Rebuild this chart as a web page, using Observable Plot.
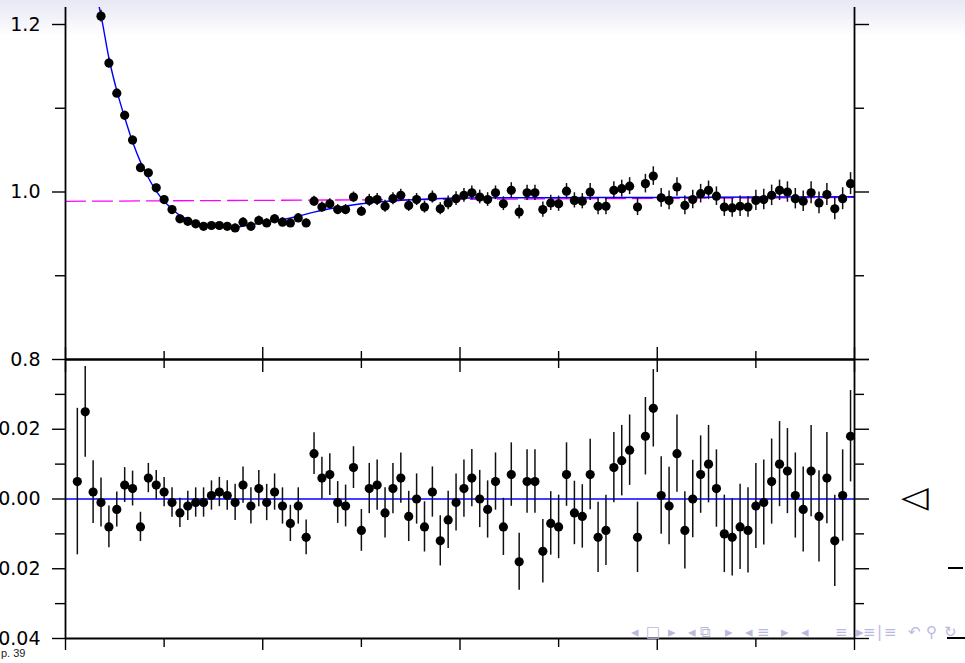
<!DOCTYPE html>
<html><head><meta charset="utf-8">
<script src="https://cdn.jsdelivr.net/npm/d3@7"></script>
<script src="https://cdn.jsdelivr.net/npm/@observablehq/plot@0.6"></script>
<style>
html,body{margin:0;padding:0;background:#fff;}
#wrap{position:relative;width:965px;height:663px;overflow:hidden;
  background:linear-gradient(to bottom,#e8e8f5 0px,#f2f2fa 18px,#ffffff 36px,#ffffff 100%);
  font-family:"DejaVu Sans",sans-serif;}
#wrap svg{position:absolute;left:0;}
.nav{position:absolute;top:623px;font-size:15px;color:#b9b9e0;font-family:"DejaVu Sans",sans-serif;line-height:18px;}
.frag{position:absolute;height:0;border-top:2px solid #000;}
</style></head>
<body><div id="wrap"></div>
<script>
// ---- data ----
const xBins = [0.06,0.10,0.14,0.18,0.22,0.26,0.30,0.34,0.38,0.42,0.46,0.50,0.54,0.58,0.62,0.66,0.70,0.74,0.78,0.82,
  0.86,0.90,0.94,0.98,1.02,1.06,1.10,1.14,1.18,1.22,1.26,1.30,1.34,1.38,1.42,1.46,1.50,1.54,1.58,1.62,
  1.66,1.70,1.74,1.78,1.82,1.86,1.90,1.94,1.98,2.02,2.06,2.10,2.14,2.18,2.22,2.26,2.30,2.34,2.38,2.42,
  2.46,2.50,2.54,2.58,2.62,2.66,2.70,2.74,2.78,2.82,2.86,2.90,2.94,2.98,3.02,3.06,3.10,3.14,3.18,3.22,
  3.26,3.30,3.34,3.38,3.42,3.46,3.50,3.54,3.58,3.62,3.66,3.70,3.74,3.78,3.82,3.86,3.90,3.94,3.98];

const ratio = [1.62,1.43,1.30,1.210,1.154,1.118,1.0915,1.062,1.029,1.023,
  1.005,0.991,0.979,0.968,0.965,0.962,0.959,0.960,0.960,0.959,
  0.957,0.964,0.959,0.966,0.963,0.968,0.964,0.963,0.969,0.963,
  0.989,0.982,0.986,0.979,0.979,0.994,0.977,0.990,0.991,0.983,
  0.992,0.996,0.984,0.991,0.982,0.994,0.980,0.987,0.992,0.996,
  0.999,0.994,0.991,0.999,0.986,1.002,0.976,0.999,0.999,0.979,
  0.987,0.986,1.001,0.990,0.989,1.000,0.983,0.983,1.002,1.004,
  1.007,0.982,1.010,1.019,0.993,0.990,1.006,0.984,0.991,0.998,
  1.002,0.995,0.982,0.981,0.983,0.982,0.990,0.991,0.996,1.002,
  1.000,0.992,0.989,0.999,0.987,0.997,0.980,0.992,1.010];

const resid = [0.005,0.025,0.002,-0.001,-0.008,-0.003,0.004,0.003,-0.008,0.006,
  0.004,0.002,-0.001,-0.004,-0.002,-0.001,-0.001,0.001,0.002,0.001,
  -0.001,0.004,-0.002,0.003,-0.001,0.002,-0.002,-0.007,-0.002,-0.011,
  0.013,0.006,0.007,-0.001,-0.002,0.009,-0.009,0.003,0.004,-0.004,
  0.003,0.006,-0.005,0.000,-0.008,0.002,-0.012,-0.006,-0.001,0.003,
  0.006,0.000,-0.003,0.005,-0.008,0.007,-0.018,0.005,0.005,-0.015,
  -0.007,-0.008,0.007,-0.004,-0.005,0.007,-0.011,-0.009,0.009,0.011,
  0.014,-0.011,0.018,0.026,0.001,-0.002,0.013,-0.009,0.000,0.007,
  0.010,0.003,-0.010,-0.011,-0.008,-0.009,-0.002,-0.001,0.005,0.010,
  0.008,0.001,-0.003,0.008,-0.005,0.006,-0.012,0.001,0.018];

const errs = [0.021,0.013,0.009,0.007,0.006,0.005,0.005,0.005,0.0042,0.0042,
  0.0042,0.0042,0.0042,0.0042,0.0042,0.0042,0.0042,0.0042,0.0042,0.0042,
  0.0052,0.0052,0.0052,0.0052,0.0052,0.0052,0.0052,0.0052,0.0052,0.005,
  0.006,0.006,0.006,0.006,0.006,0.006,0.006,0.0072,0.0072,0.0072,
  0.0072,0.0072,0.0072,0.0072,0.0072,0.0072,0.0072,0.0082,0.0082,0.0082,
  0.0082,0.0082,0.0082,0.0082,0.0082,0.0091,0.0082,0.0091,0.0091,0.0091,
  0.0091,0.0091,0.0091,0.0091,0.0091,0.0101,0.0101,0.0101,0.0101,0.0101,
  0.0101,0.0101,0.0111,0.0111,0.0111,0.0111,0.0111,0.0111,0.0111,0.0111,
  0.0111,0.0111,0.0111,0.0111,0.0122,0.0122,0.0122,0.0122,0.0122,0.0122,
  0.0122,0.0122,0.0122,0.0131,0.0131,0.0131,0.0131,0.0131,0.0131];

const fitX = [0.16,0.18,0.22,0.26,0.30,0.34,0.38,0.42,0.46,0.50,0.54,0.58,0.62,0.66,0.70,0.78,0.86,0.94,
  1.02,1.10,1.18,1.26,1.34,1.50,1.70,1.87,2.04,2.40,3.00,4.00];
const fitY = [1.232,1.211,1.160,1.121,1.089,1.060,1.036,1.017,1.001,0.989,0.980,0.972,0.967,0.963,0.960,0.958,0.958,0.961,
  0.964,0.967,0.971,0.976,0.980,0.986,0.990,0.992,0.9928,0.9932,0.9935,0.9944];

const refX = [0, 4];
const refY = [0.9889, 0.9935];

const topMajor = [0.8, 1.0, 1.2];
const topMinor = [0.9, 1.1];
const resLabeled = [-0.04, -0.02, 0, 0.02];
const resMajor = [-0.04, -0.02, 0, 0.02, 0.04];
const resMinor = [-0.03, -0.01, 0.01, 0.03];
const xMajor = [0, 1, 2, 3, 4];
const xMinor = [0.5, 1.5, 2.5, 3.5];

// ---- build ----
const rows = xBins.map((x, i) => ({x, ratio: ratio[i], resid: resid[i], err: errs[i]}));
const fit = fitX.map((x, i) => ({x, y: fitY[i]}));
const ref = refX.map((x, i) => ({x, y: refY[i]}));
const FONT = "DejaVu Sans";
const none = () => "";
const tk = {stroke: "black", strokeWidth: 1.4, label: null};

const topPlot = Plot.plot({
  width: 965, height: 380,
  marginTop: 7, marginBottom: 21, marginLeft: 65, marginRight: 111,
  style: {background: "transparent", overflow: "visible", fontFamily: FONT, color: "black"},
  x: {domain: [0, 4], label: null},
  y: {domain: [0.8, 1.2203], label: null},
  marks: [
    Plot.line(ref, {x: "x", y: "y", stroke: "#ff00ff", strokeWidth: 1.3, strokeDasharray: "20,7", clip: true}),
    Plot.line(fit, {x: "x", y: "y", stroke: "#0000ff", strokeWidth: 1.4, curve: "monotone-x", clip: true}),
    Plot.ruleX(rows, {x: "x", y1: d => d.ratio - d.err, y2: d => d.ratio + d.err, stroke: "#111", strokeWidth: 1.5, clip: true}),
    Plot.dot(rows, {x: "x", y: "ratio", r: 4.6, fill: "black", clip: true}),
    Plot.ruleX([0, 4], {stroke: "black", strokeWidth: 1.8}),
    Plot.ruleY([0.8], {stroke: "black", strokeWidth: 1.8}),
    Plot.axisY(topMajor, {...tk, anchor: "left", tickSize: 13, tickPadding: 12, tickFormat: d3.format(".1f"), fontSize: 19}),
    Plot.axisY(topMinor, {...tk, anchor: "left", tickSize: 10, tickFormat: none}),
    Plot.axisY(topMajor, {...tk, anchor: "right", tickSize: 14, tickFormat: none}),
    Plot.axisY(topMinor, {...tk, anchor: "right", tickSize: 9, tickFormat: none}),
    Plot.axisX(xMajor, {...tk, anchor: "bottom", tickSize: 13, tickFormat: none}),
    Plot.axisX(xMinor, {...tk, anchor: "bottom", tickSize: 9, tickFormat: none})
  ]
});

const botPlot = Plot.plot({
  width: 965, height: 323,
  marginTop: 19, marginBottom: 25, marginLeft: 65, marginRight: 111,
  style: {background: "transparent", overflow: "visible", fontFamily: FONT, color: "black"},
  x: {domain: [0, 4], label: null},
  y: {domain: [-0.04, 0.04], label: null},
  marks: [
    Plot.ruleY([0], {stroke: "#0000ff", strokeWidth: 1.4}),
    Plot.ruleX(rows, {x: "x", y1: d => d.resid - d.err, y2: d => d.resid + d.err, stroke: "#111", strokeWidth: 1.5, clip: true}),
    Plot.dot(rows, {x: "x", y: "resid", r: 4.6, fill: "black", clip: true}),
    Plot.ruleX([0, 4], {stroke: "black", strokeWidth: 1.8}),
    Plot.ruleY([-0.04, 0.04], {stroke: "black", strokeWidth: 1.8}),
    Plot.axisY(resLabeled, {...tk, anchor: "left", tickSize: 13, tickPadding: 12, tickFormat: d3.format(".2f"), fontSize: 19}),
    Plot.axisY(resMinor, {...tk, anchor: "left", tickSize: 10, tickFormat: none}),
    Plot.axisY(resMajor, {...tk, anchor: "right", tickSize: 14, tickFormat: none}),
    Plot.axisY(resMinor, {...tk, anchor: "right", tickSize: 9, tickFormat: none}),
    Plot.axisX(xMajor, {...tk, anchor: "top", tickSize: 13, tickFormat: none}),
    Plot.axisX(xMinor, {...tk, anchor: "top", tickSize: 9, tickFormat: none}),
    Plot.axisX(xMajor, {...tk, anchor: "bottom", tickSize: 12, tickFormat: none}),
    Plot.axisX(xMinor, {...tk, anchor: "bottom", tickSize: 9, tickFormat: none})
  ]
});

const wrap = document.getElementById("wrap");
topPlot.style.top = "0px";
botPlot.style.top = "340px";
wrap.appendChild(topPlot);
wrap.appendChild(botPlot);

// slide decorations (text)
function addText(txt, css) {
  const d = document.createElement("div");
  d.textContent = txt;
  d.style.position = "absolute";
  Object.assign(d.style, css);
  wrap.appendChild(d);
  return d;
}
addText("p. 39", {left: "1px", top: "647px", fontSize: "11px", fontFamily: "Liberation Sans, sans-serif", color: "#222", lineHeight: "12px"});
addText("◁", {left: "901px", top: "477px", fontSize: "36px", lineHeight: "40px", color: "#000", fontFamily: "DejaVu Sans", transform: "scaleY(0.82)"});
const navItems = [["◂",631],["□",646],["▸",668],["◂",688],["⧉",700],["▸",725],["◂",745],["≡",757],["▸",781],["◂",801],["≡",835],["▸",856],["≡",863],["|",877],["≡",884],["↶",908],["⚲",926],["↻",944]];
navItems.forEach(([t, x]) => { const s = addText(t, {left: x + "px"}); s.className = "nav"; });
const f1 = document.createElement("div"); f1.className = "frag"; Object.assign(f1.style, {left: "948px", top: "567px", width: "15px"}); wrap.appendChild(f1);
const f2 = document.createElement("div"); f2.className = "frag"; Object.assign(f2.style, {left: "947px", top: "637px", width: "18px"}); wrap.appendChild(f2);
</script>
</body></html>
